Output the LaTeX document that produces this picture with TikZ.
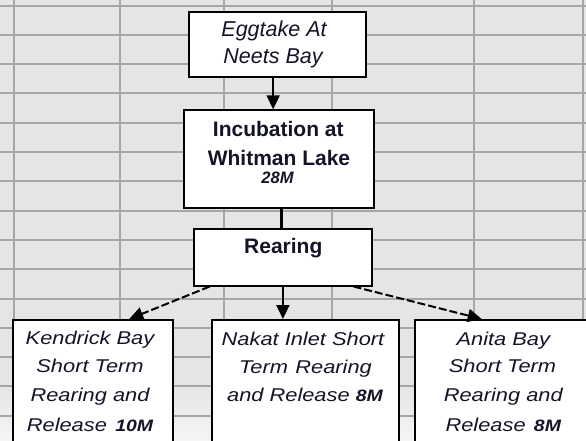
\documentclass[tikz,border=0pt]{standalone}
\usepackage{fontspec}
\setmainfont{Liberation Sans}
\newfontfamily\widefont[FakeStretch=1.18]{Liberation Sans}
\usetikzlibrary{arrows.meta}
\definecolor{cellbg}{HTML}{E5E5E5}
\definecolor{gridln}{HTML}{A6A6A6}
\definecolor{inktx}{HTML}{141428}
\begin{document}
\begin{tikzpicture}[x=1pt,y=-1pt,
  gridline/.style={draw=gridln, line width=2pt},
  box/.style={draw=black, line width=1.8pt, fill=white, rectangle, inner sep=0pt, anchor=north west},
  tx/.style={anchor=base, inner sep=0pt, text=inktx},
  topit/.style={tx, font={\fontsize{21.5}{26}\selectfont\itshape}},
  topbf/.style={tx, font={\fontsize{21}{26}\selectfont\bfseries}},
  numtx/.style={tx, font={\fontsize{16.5}{20}\selectfont\bfseries\itshape}},
  lowit/.style={tx, font={\widefont\fontsize{18.5}{22}\selectfont\itshape}},
  arr/.style={draw=black, line width=2pt, -{Triangle[length=14pt,width=13pt]}},
  darr/.style={arr, dash pattern=on 8pt off 3pt}
]
\useasboundingbox (0,0) rectangle (586,440);
\clip (0,0) rectangle (586,440);
% spreadsheet background
\fill[cellbg] (0,0) rectangle (586,440);
\shade[top color=cellbg, bottom color=white!60!cellbg] (0,385) rectangle (586,440);
\foreach \k in {0,...,14} \draw[gridline] (0,{5.5+29.3*\k}) -- (586,{5.5+29.3*\k});
\foreach \x in {14,119.5,224.3,331.7,474,583} \draw[gridline] (\x,0) -- (\x,440);

% boxes
\node[box, minimum width=176.7pt, minimum height=65.6pt] (egg) at (188.3,10.7) {};
\node[box, minimum width=189.7pt, minimum height=98pt] (inc) at (183.3,109.3) {};
\node[box, minimum width=178pt, minimum height=56.4pt] (rear) at (192.7,228.3) {};
\node[box, minimum width=160pt, minimum height=130pt] (ken) at (12.3,319) {};
\node[box, minimum width=187.3pt, minimum height=130pt] (nak) at (211,319) {};
\node[box, minimum width=187.3pt, minimum height=130pt] (ani) at (414.3,319) {};

% texts
\node[topit] (egg1) at (274,36.3) {Eggtake At};
\node[topit] (egg2) at (273,63) {Neets Bay};
\node[topbf] (inc1) at (278.3,136) {Incubation at};
\node[topbf] (inc2) at (279,165) {Whitman Lake};
\node[numtx] (inc3) at (277.5,183.3) {28M};
\node[topbf] (rear1) at (283.3,253.3) {Rearing};

\node[lowit] (ken1) at (90,344) {Kendrick Bay};
\node[lowit] (ken2) at (90,372.7) {Short Term};
\node[lowit] (ken3) at (90,401.7) {Rearing and};
\node[lowit] (ken4) at (90,431.7) {Release\hspace{0.45em}{\fontsize{16.5}{20}\selectfont\bfseries 10M}};

\node[lowit] (nak1) at (303,345) {Nakat Inlet Short};
\node[lowit] (nak2) at (305.5,373.3) {Term\hspace{0.4em}Rearing};
\node[lowit] (nak3) at (305,401.7) {and Release {\fontsize{16.5}{20}\selectfont\bfseries 8M}};

\node[lowit] (ani1) at (503.3,345) {Anita Bay};
\node[lowit] (ani2) at (502.5,372.7) {Short Term};
\node[lowit] (ani3) at (503.3,401.7) {Rearing and};
\node[lowit] (ani4) at (503.3,431.7) {Release\hspace{0.45em}{\fontsize{16.5}{20}\selectfont\bfseries 8M}};

% connectors
\draw[arr] ([xshift=-4.4pt]egg.south) -- ([xshift=-4.4pt]egg.south |- inc.north);
\draw[draw=black, line width=3.3pt] ([xshift=2.6pt]inc.south) -- ([xshift=2.6pt]inc.south |- rear.north);
\draw[darr] ([xshift=17pt]rear.south west) -- ([xshift=36pt]ken.north);
\draw[arr] ([xshift=0.3pt]rear.south) -- ([xshift=0.3pt]rear.south |- nak.north);
\draw[darr] ([xshift=-19pt]rear.south east) -- ([xshift=67.4pt]ani.north west);
\end{tikzpicture}
\end{document}
